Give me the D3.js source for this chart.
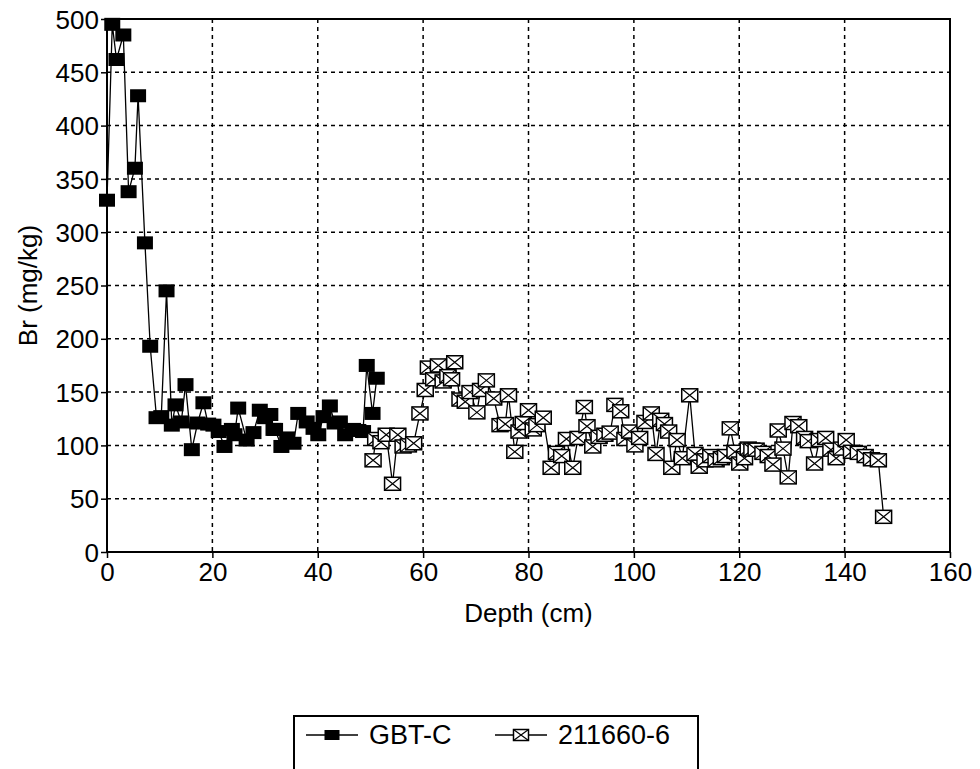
<!DOCTYPE html>
<html>
<head>
<meta charset="utf-8">
<script src="https://cdn.jsdelivr.net/npm/d3@7"></script>
<style>
  body { margin: 0; background: #fff; }
  text { font-family: "Liberation Sans", Arial, sans-serif; fill: #000; }
</style>
</head>
<body>
<div id="chart"></div>
<script>
// GBT-C core: depth (cm) and Br (mg/kg)
var gbtDepth = [0, 1.0, 1.8, 3.1, 4.1, 5.3, 5.9, 7.2, 8.2, 9.4, 10.3, 11.3, 12.3, 13.0, 14.1, 14.9,
  16.1, 17.2, 18.3, 19.2, 20.2, 21.2, 22.3, 23.7, 24.2, 24.9, 26.5, 27.8, 29.0, 30.0, 31.0, 31.6,
  31.9, 33.1, 34.2, 35.4, 36.3, 37.9, 39.2, 40.1, 41.1, 42.3, 43.2, 44.2, 45.2, 46.7, 47.7, 48.6,
  49.3, 50.4, 51.2];
var gbtBr = [330, 495, 462, 485, 338, 360, 428, 290, 193, 126, 127, 245, 119, 138, 122, 157,
  96, 121, 140, 120, 119, 113, 99, 115, 110, 135, 105, 112, 133, 126, 129, 115,
  115, 99, 107, 102, 130, 122, 116, 110, 127, 137, 121, 122, 110, 115, 114, 113,
  175, 130, 163];

// core 211660-6
var coreDepth = [50.5, 51.0, 52.0, 53.0, 54.2, 55.2, 56.2, 57.2, 58.2, 59.4, 60.4, 61.0, 62.0, 62.9,
  63.8, 64.7, 65.4, 66.0, 67.0, 68.0, 68.9, 70.2, 70.9, 72.0, 73.4, 74.6, 75.6, 76.2, 77.4, 78.2,
  79.0, 80.0, 80.9, 81.6, 82.8, 84.3, 85.3, 86.3, 87.2, 88.4, 89.4, 90.6, 91.1, 92.2, 93.4, 94.5,
  95.5, 96.4, 97.5, 98.3, 99.2, 100.2, 101.1, 102.1, 103.3, 104.2, 105.1, 105.8, 106.6, 107.2,
  108.2, 109.2, 110.6, 111.6, 112.4, 113.5, 114.6, 115.6, 116.6, 117.4, 118.3, 119.2, 120.1,
  121.0, 121.7, 122.4, 123.2, 124.5, 125.5, 126.4, 127.4, 128.3, 129.3, 130.2, 131.3, 132.4,
  133.1, 134.3, 135.2, 136.4, 137.4, 138.4, 139.4, 140.3, 141.3, 142.6, 143.9, 145.1, 146.4, 147.4];
var coreBr = [86, 106, 103, 110, 64, 110, 99, 100, 102, 130, 152, 173, 162, 175,
  160, 165, 162, 178, 143, 141, 150, 131, 152, 161, 144, 119, 120, 147, 94, 113,
  121, 133, 115, 119, 126, 79, 93, 90, 106, 79, 107, 136, 118, 99, 108, 110,
  112, 138, 132, 106, 113, 100, 107, 122, 130, 92, 124, 120, 113, 79,
  105, 88, 147, 92, 80, 86, 90, 86, 88, 90, 116, 94, 83,
  88, 97, 96, 96, 93, 90, 82, 114, 97, 70, 121, 118, 107,
  104, 83, 105, 107, 96, 88, 97, 105, 94, 93, 90, 87, 86, 33];

var xTicks = [0, 20, 40, 60, 80, 100, 120, 140, 160];
var yTicks = [0, 50, 100, 150, 200, 250, 300, 350, 400, 450, 500];
var seriesNames = ["GBT-C", "211660-6"];

(function(){
var width = 980, height = 769;
var pL = 107, pR = 950, pT = 19, pB = 552;

var svg = d3.select("#chart").append("svg")
    .attr("width", width)
    .attr("height", height);

var x = d3.scaleLinear().domain([0, 160]).range([pL, pR]);
var y = d3.scaleLinear().domain([0, 500]).range([pB, pT]);

// dashed grid
svg.append("g").selectAll("line")
    .data(xTicks.slice(1, -1))
    .enter().append("line")
    .attr("x1", function(d){ return x(d); })
    .attr("x2", function(d){ return x(d); })
    .attr("y1", pT).attr("y2", pB)
    .attr("stroke", "#000").attr("stroke-width", 1.5)
    .attr("stroke-dasharray", "4,4");
svg.append("g").selectAll("line")
    .data(yTicks.slice(1, -1))
    .enter().append("line")
    .attr("y1", function(d){ return y(d); })
    .attr("y2", function(d){ return y(d); })
    .attr("x1", pL).attr("x2", pR)
    .attr("stroke", "#000").attr("stroke-width", 1.5)
    .attr("stroke-dasharray", "4,4");

// axes
var xAxis = svg.append("g")
    .attr("transform", "translate(0," + pB + ")")
    .call(d3.axisBottom(x).tickValues(xTicks).tickSize(6).tickSizeOuter(0).tickPadding(5));
var yAxis = svg.append("g")
    .attr("transform", "translate(" + pL + ",0)")
    .call(d3.axisLeft(y).tickValues(yTicks).tickSize(6).tickSizeOuter(0).tickPadding(2));
[xAxis, yAxis].forEach(function(a){
  a.select(".domain").remove();
  a.selectAll("line").attr("stroke", "#000").attr("stroke-width", 1.5);
  a.selectAll("text")
    .style("font-family", '"Liberation Sans", Arial, sans-serif')
    .style("font-size", "26px")
    .attr("fill", "#000");
});
yAxis.selectAll("text").attr("dy", "0.35em");

// frame
svg.append("rect")
    .attr("x", pL).attr("y", pT)
    .attr("width", pR - pL).attr("height", pB - pT)
    .attr("fill", "none").attr("stroke", "#000").attr("stroke-width", 2);

// axis titles
svg.append("text")
    .attr("x", (pL + pR) / 2).attr("y", 622)
    .attr("text-anchor", "middle")
    .style("font-size", "26px")
    .text("Depth (cm)");
svg.append("text")
    .attr("transform", "translate(37," + ((pT + pB) / 2) + ") rotate(-90)")
    .attr("text-anchor", "middle")
    .style("font-size", "26px")
    .text("Br (mg/kg)");

var line = d3.line()
    .x(function(d){ return x(d[0]); })
    .y(function(d){ return y(d[1]); });

var gbt = d3.zip(gbtDepth, gbtBr);
var core = d3.zip(coreDepth, coreBr);
var mw = 16, mh = 13;

function filledSquare(g, cx, cy, w, h) {
  g.append("rect")
    .attr("x", cx - w / 2).attr("y", cy - h / 2)
    .attr("width", w).attr("height", h)
    .attr("fill", "#000");
}
function crossedSquare(g, cx, cy, w, h) {
  g.append("rect")
    .attr("x", cx - w / 2).attr("y", cy - h / 2)
    .attr("width", w).attr("height", h)
    .attr("fill", "#fff").attr("stroke", "#000").attr("stroke-width", 1.5);
  g.append("path")
    .attr("d", "M" + (cx - w / 2) + "," + (cy - h / 2) + "L" + (cx + w / 2) + "," + (cy + h / 2) +
               "M" + (cx + w / 2) + "," + (cy - h / 2) + "L" + (cx - w / 2) + "," + (cy + h / 2))
    .attr("stroke", "#000").attr("stroke-width", 1.2);
}

// GBT-C
svg.append("path").datum(gbt)
    .attr("d", line).attr("fill", "none")
    .attr("stroke", "#000").attr("stroke-width", 1.3);
var gG = svg.append("g");
gbt.forEach(function(d){ filledSquare(gG, x(d[0]), y(d[1]), mw, mh); });

// 211660-6
svg.append("path").datum(core)
    .attr("d", line).attr("fill", "none")
    .attr("stroke", "#000").attr("stroke-width", 1.3);
var cG = svg.append("g");
core.forEach(function(d){ crossedSquare(cG, x(d[0]), y(d[1]), mw, mh); });

// legend
var lg = svg.append("g");
lg.append("rect")
    .attr("x", 294).attr("y", 716)
    .attr("width", 404).attr("height", 80)
    .attr("fill", "#fff").attr("stroke", "#000").attr("stroke-width", 2);
var legItems = [{x: 306, draw: filledSquare}, {x: 495, draw: crossedSquare}];
legItems.forEach(function(it, i){
  lg.append("line")
    .attr("x1", it.x).attr("x2", it.x + 52)
    .attr("y1", 735).attr("y2", 735)
    .attr("stroke", "#000").attr("stroke-width", 1.3);
  it.draw(lg, it.x + 26, 735, 15, i === 0 ? 10 : 11);
  lg.append("text")
    .attr("x", it.x + 63).attr("y", 735)
    .attr("dy", "0.35em")
    .style("font-size", "27px")
    .text(seriesNames[i]);
});
})();
</script>
</body>
</html>
